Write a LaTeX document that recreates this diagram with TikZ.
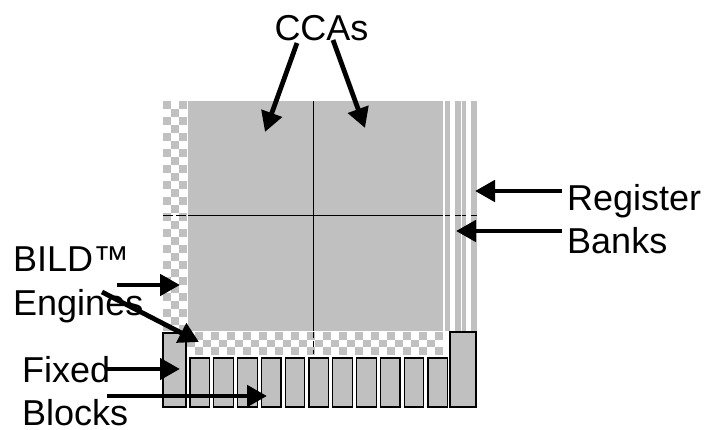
\documentclass[tikz,border=0pt]{standalone}
\usepackage{fontspec}
\setmainfont{Liberation Sans}
\usetikzlibrary{arrows.meta}
\definecolor{panel}{HTML}{C0C0C0}
\begin{document}
\begin{tikzpicture}[x=1pt,y=-1pt,
  lbl/.style={font=\fontsize{36}{40}\selectfont, inner sep=0pt, text depth=0pt},
  pointer/.style={line width=4.8pt, -{Triangle[length=20pt,width=21pt]}},
  fixedblk/.style={fill=panel, draw=black, line width=1.2pt, inner sep=0pt, outer sep=0pt, anchor=north west},
  divider/.style={line width=1pt, black}]
\useasboundingbox (0,0) rectangle (706,430);

% BILD engine column (checkered)
\foreach \i in {0,...,2}{
  \foreach \j in {0,...,28}{
    \pgfmathtruncatemacro\p{mod(\i+\j,2)}
    \ifnum\p=0
      \fill[panel] ({163+8*\i},{101+8*\j}) rectangle ++(8,{min(8,331-(101+8*\j))});
    \fi
  }
}
% BILD engine row (checkered)
\foreach \i in {0,...,31}{
  \foreach \j in {0,...,2}{
    \pgfmathtruncatemacro\p{mod(\i+\j+1,2)}
    \ifnum\p=0
      \fill[panel] ({187+8*\i},{332+7.7*\j}) rectangle ++({min(8,443-(187+8*\i))},7.7);
    \fi
  }
}

% CCA array
\fill[panel] (188,101) rectangle (443,331);

% register bank stripes
\foreach \a/\b in {445/449.7, 455/460.7, 462/465.7, 471/476.7}{
  \fill[panel] (\a,101) rectangle (\b,331);
}

% CCA dividers
\draw[divider] (188,216) -- (443,216);
\draw[divider, dash pattern=on 10pt off 3pt] (163,216) -- (187,216);
\foreach \a/\b in {445/449.7, 455/460.7, 462/465.7, 471/476.7}{
  \draw[divider] (\a,216) -- (\b,216);
}
\draw[divider] (313.5,101) -- (313.5,331);
\draw[divider, dash pattern=on 6pt off 3pt] (313.5,332) -- (313.5,354);

% fixed blocks
\node[fixedblk, minimum width=23pt, minimum height=74pt] (fixL) at (163,333) {};
\foreach \k in {0,...,10}{
  \node[fixedblk, minimum width=19.5pt, minimum height=49pt] (fix\k) at ({190+23.8*\k},358) {};
}
\node[fixedblk, minimum width=26pt, minimum height=75pt] (fixR) at (450,332) {};

% labels
\node[lbl, anchor=base] (cca) at (321.5,41) {CCAs};
\node[lbl, anchor=base west] (reg) at (567,211) {Register};
\node[lbl, anchor=base west] (banks) at (567,254) {Banks};
\node[lbl, anchor=base west] (bild) at (13,271) {BILD™};
\node[lbl, anchor=base west] (eng) at (13,315) {Engines};
\node[lbl, anchor=base west] (fixd) at (22,382) {Fixed};
\node[lbl, anchor=base west] (blk) at (22,425) {Blocks};

% arrow end points
\coordinate (ccaA) at (297,43);   \coordinate (ccaAt) at (265,132);
\coordinate (ccaB) at (333,40);   \coordinate (ccaBt) at (365,128);
\coordinate (regA) at (562,191);  \coordinate (regAt) at (475,191);
\coordinate (regB) at (562,231);  \coordinate (regBt) at (456,231);
\coordinate (bildA) at (117,285); \coordinate (bildAt) at (180,285);
\coordinate (bildB) at (102,292); \coordinate (bildBt) at (199,342);
\coordinate (fixA) at (106,369);  \coordinate (fixAt) at (180,369);
\coordinate (fixB) at (107,396);  \coordinate (fixBt) at (267,396);

\draw[pointer] (ccaA) -- (ccaAt);
\draw[pointer] (ccaB) -- (ccaBt);
\draw[pointer] (regA) -- (regAt);
\draw[pointer] (regB) -- (regBt);
\draw[pointer] (bildA) -- (bildAt);
\draw[pointer] (bildB) -- (bildBt);
\draw[pointer] (fixA) -- (fixAt);
\draw[pointer] (fixB) -- (fixBt);
\end{tikzpicture}
\end{document}
